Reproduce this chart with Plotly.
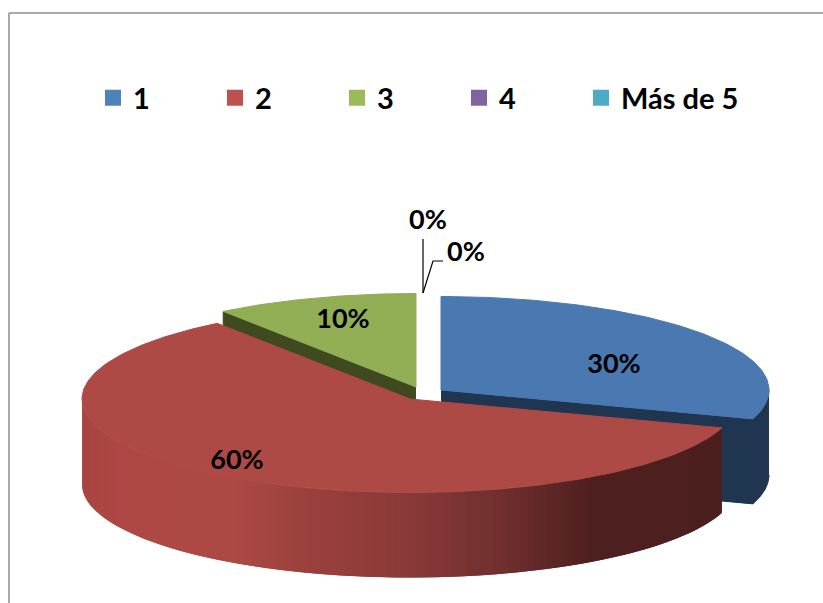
import math
import plotly.graph_objects as go

categories = ["1", "2", "3", "4", "Más de 5"]
values = [30, 60, 10, 0, 0]
legend_colors = ["#4f81bd", "#c0504d", "#9bbb59", "#8064a2", "#4bacc6"]
top_colors = ["#4a79b2", "#ae4a46", "#91ae55", "#8064a2", "#4bacc6"]
side_colors = ["#1f3550", "#a8463f", "#3f4a20", "#40325a", "#255a68"]

# Pie geometry (pixels of the page)
RX, RY, DEPTH = 328, 93.5, 85
CENTERS = {0: (441, 390), 1: (410, 399), 2: (416, 387)}
LABELS = {0: (614, 366), 1: (237, 462), 2: (343, 321), 3: (428, 222), 4: (466, 254)}

total = sum(values)
starts = []
acc = 0
for v in values:
    starts.append(acc / total * 360)
    acc += v


def rim(c, a, dy=0):
    r = math.radians(a)
    return c[0] + RX * math.sin(r), c[1] - RY * math.cos(r) + dy


def arc(c, a0, a1, dy=0, n=120):
    pts = [rim(c, a0 + (a1 - a0) * i / n, dy) for i in range(n + 1)]
    return [p[0] for p in pts], [p[1] for p in pts]


def poly(fig, xs, ys, color, width=1):
    fig.add_trace(go.Scatter(x=xs, y=ys, mode="lines", fill="toself", fillcolor=color,
                             line=dict(color=color, width=width), hoverinfo="skip", showlegend=False))


def shade(x):
    stops = [(82, (168, 69, 65)), (125, (174, 72, 69)), (230, (172, 73, 69)), (300, (156, 65, 61)),
             (400, (138, 58, 56)), (500, (111, 47, 46)), (590, (78, 31, 31)), (721, (76, 31, 31))]
    for (x0, c0), (x1, c1) in zip(stops, stops[1:]):
        if x <= x1:
            t = (x - x0) / (x1 - x0)
            return "rgb(%d,%d,%d)" % tuple(round(p + (q - p) * t) for p, q in zip(c0, c1))
    return "rgb(76,31,31)"


fig = go.Figure()

# Blue slice: cut face, outer wall, top
c = CENTERS[0]
a0, a1 = starts[0], starts[0] + values[0] / total * 360
e = rim(c, a1)
poly(fig, [c[0], e[0], e[0], c[0]], [c[1], e[1], e[1] + DEPTH, c[1] + DEPTH], side_colors[0])
xs, ys = arc(c, 90, a1)
xb, yb = arc(c, 90, a1, DEPTH)
poly(fig, xs + xb[::-1], ys + yb[::-1], side_colors[0])
xs, ys = arc(c, a0, a1)
poly(fig, [c[0]] + xs + [c[0]], [c[1]] + ys + [c[1]], top_colors[0])

# Green slice: cut face and top
c = CENTERS[2]
a0, a1 = starts[2], starts[2] + values[2] / total * 360
e = rim(c, a0)
poly(fig, [c[0], e[0], e[0], c[0]], [c[1], e[1], e[1] + DEPTH, c[1] + DEPTH], side_colors[2])
xs, ys = arc(c, a0, a1)
poly(fig, [c[0]] + xs + [c[0]], [c[1]] + ys + [c[1]], top_colors[2])

# Red slice: shaded wall (overlapping strips) then top
c = CENTERS[1]
a0, a1 = starts[1], starts[1] + values[1] / total * 360
n = 130
wall0, wall1 = a0, 270
for i in range(n):
    s0 = wall0 + (wall1 - wall0) * i / n
    s1 = wall0 + (wall1 - wall0) * (i + 2) / n
    s1 = min(s1, wall1)
    sm = (s0 + s1) / 2
    xt, yt = arc(c, s0, s1, n=4)
    xb, yb = arc(c, s0, s1, DEPTH, n=4)
    poly(fig, xt + xb[::-1], yt + yb[::-1], shade(rim(c, sm)[0]), width=0)
xs, ys = arc(c, a0, a1, n=200)
poly(fig, [c[0]] + xs + [c[0]], [c[1]] + ys + [c[1]], top_colors[1])

# Leader lines of the empty slices
fig.add_trace(go.Scatter(x=[423, 423], y=[239, 293], mode="lines", line=dict(color="#000", width=1.2),
                         hoverinfo="skip", showlegend=False))
fig.add_trace(go.Scatter(x=[423, 433, 443], y=[293, 261, 261], mode="lines", line=dict(color="#000", width=1.2),
                         hoverinfo="skip", showlegend=False))

# Percent labels
fig.add_trace(go.Scatter(x=[LABELS[i][0] for i in range(5)], y=[LABELS[i][1] for i in range(5)],
                         mode="text", text=[f"{v}%" for v in values],
                         textfont=dict(family="Lato", size=27, color="#000", weight="bold"),
                         hoverinfo="skip", showlegend=False))

# Legend entries
for name, col in zip(categories, legend_colors):
    fig.add_trace(go.Scatter(x=[None], y=[None], mode="markers", name=name,
                             legendwidth=130 if len(name) > 1 else 77,
                             marker=dict(symbol="square", size=18, color=col)))

fig.update_layout(
    width=823, height=603, margin=dict(l=0, r=0, t=0, b=0),
    paper_bgcolor="white", plot_bgcolor="white",
    xaxis=dict(range=[0, 823], visible=False, fixedrange=True),
    yaxis=dict(range=[603, 0], visible=False, fixedrange=True),
    legend=dict(orientation="h", x=93 / 823, xanchor="left", y=1 - 98 / 603, yanchor="middle",
                entrywidth=77, entrywidthmode="pixels", traceorder="normal",
                font=dict(family="Lato", size=29, color="#000", weight="bold"),
                bgcolor="rgba(0,0,0,0)"),
    shapes=[
        dict(type="line", x0=9, x1=9, y0=13, y1=603, line=dict(color="#8c8c8c", width=1.5)),
        dict(type="line", x0=9, x1=823, y0=13, y1=13, line=dict(color="#8c8c8c", width=1.5)),
    ],
)
fig.write_html("out.html", config=dict(displayModeBar=False),
               post_script="document.body.style.margin='0';document.documentElement.style.overflow='hidden';")
